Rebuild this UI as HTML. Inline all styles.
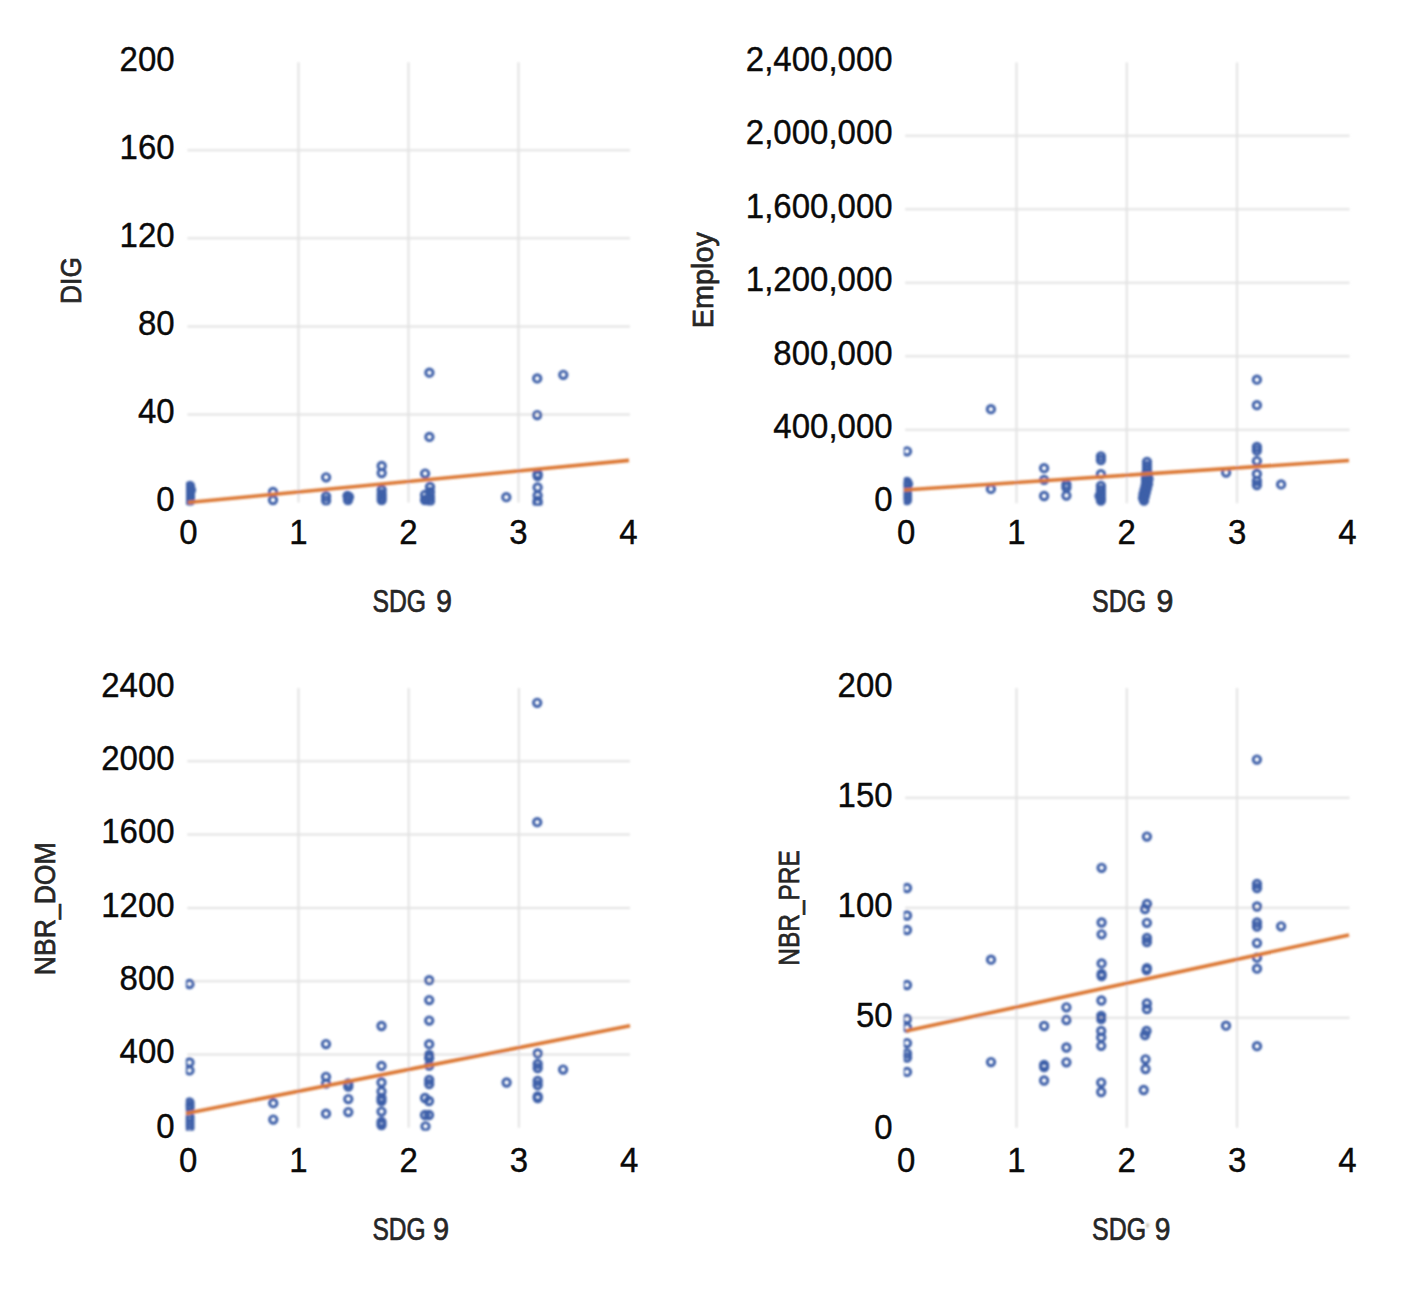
<!DOCTYPE html>
<html><head><meta charset="utf-8"><style>html,body{margin:0;padding:0;background:#fff;}svg{display:block;}</style></head>
<body><svg width="1403" height="1300" viewBox="0 0 1403 1300">
<defs><filter id="bl" x="-5%" y="-5%" width="110%" height="110%"><feGaussianBlur stdDeviation="0.8"/></filter><filter id="bt" x="-5%" y="-5%" width="110%" height="110%"><feGaussianBlur stdDeviation="0"/></filter></defs>
<rect width="1403" height="1300" fill="#fff"/>
<g filter="url(#bl)"><g stroke="#e2e2e2" stroke-width="2"><line x1="187.5" y1="414.5" x2="630.0" y2="414.5"/><line x1="187.5" y1="326.4" x2="630.0" y2="326.4"/><line x1="187.5" y1="238.3" x2="630.0" y2="238.3"/><line x1="187.5" y1="150.2" x2="630.0" y2="150.2"/><line x1="298.5" y1="62.3" x2="298.5" y2="502.6"/><line x1="408.5" y1="62.3" x2="408.5" y2="502.6"/><line x1="518.5" y1="62.3" x2="518.5" y2="502.6"/></g>
<clipPath id="cpc1"><rect x="186.0" y="54.3" width="452.0" height="451.3"/></clipPath>
<g clip-path="url(#cpc1)" fill="none" stroke="#3c5fa8" stroke-width="2.9"><circle cx="190" cy="486" r="3.7"/><circle cx="190" cy="489" r="3.7"/><circle cx="190" cy="492" r="3.7"/><circle cx="190" cy="495" r="3.7"/><circle cx="190" cy="498" r="3.7"/><circle cx="190" cy="501" r="3.7"/><circle cx="191" cy="490" r="3.7"/><circle cx="273" cy="492" r="3.7"/><circle cx="273" cy="500" r="3.7"/><circle cx="326.1" cy="477.3" r="3.7"/><circle cx="326.1" cy="496.5" r="3.7"/><circle cx="326.1" cy="500.5" r="3.7"/><circle cx="347.5" cy="496" r="3.7"/><circle cx="349" cy="497" r="3.7"/><circle cx="348" cy="500" r="3.7"/><circle cx="381.7" cy="466" r="3.7"/><circle cx="381.7" cy="473" r="3.7"/><circle cx="381.7" cy="490" r="3.7"/><circle cx="381.7" cy="494" r="3.7"/><circle cx="381.7" cy="497" r="3.7"/><circle cx="381.7" cy="500" r="3.7"/><circle cx="425.1" cy="473.6" r="3.7"/><circle cx="430" cy="487" r="3.7"/><circle cx="430" cy="492" r="3.7"/><circle cx="425" cy="495" r="3.7"/><circle cx="430" cy="497" r="3.7"/><circle cx="425" cy="500" r="3.7"/><circle cx="430" cy="501" r="3.7"/><circle cx="427" cy="500" r="3.7"/><circle cx="429.4" cy="372.7" r="3.7"/><circle cx="429.4" cy="436.9" r="3.7"/><circle cx="506.3" cy="497.2" r="3.7"/><circle cx="537.2" cy="378.4" r="3.7"/><circle cx="563.3" cy="374.8" r="3.7"/><circle cx="537.2" cy="415.1" r="3.7"/><circle cx="537.6" cy="474" r="3.7"/><circle cx="537.6" cy="476" r="3.7"/><circle cx="537.6" cy="487.4" r="3.7"/><circle cx="537.6" cy="495.5" r="3.7"/><circle cx="537.6" cy="501" r="3.7"/><circle cx="537.6" cy="503" r="3.7"/></g>
<line x1="188" y1="502.5" x2="629" y2="460.4" stroke="#db7630" stroke-width="3.6"/>
<g stroke="#e2e2e2" stroke-width="2"><line x1="905.2" y1="429.8" x2="1349.5" y2="429.8"/><line x1="905.2" y1="356.3" x2="1349.5" y2="356.3"/><line x1="905.2" y1="282.8" x2="1349.5" y2="282.8"/><line x1="905.2" y1="209.3" x2="1349.5" y2="209.3"/><line x1="905.2" y1="135.8" x2="1349.5" y2="135.8"/><line x1="1016.5" y1="62.5" x2="1016.5" y2="503.3"/><line x1="1126.8" y1="62.5" x2="1126.8" y2="503.3"/><line x1="1237.1" y1="62.5" x2="1237.1" y2="503.3"/></g>
<clipPath id="cpc2"><rect x="903.7" y="54.5" width="453.8" height="451.8"/></clipPath>
<g clip-path="url(#cpc2)" fill="none" stroke="#3c5fa8" stroke-width="2.9"><circle cx="907" cy="451.3" r="3.7"/><circle cx="907" cy="482" r="3.7"/><circle cx="907" cy="486" r="3.7"/><circle cx="907" cy="490" r="3.7"/><circle cx="907" cy="494" r="3.7"/><circle cx="907" cy="497" r="3.7"/><circle cx="907" cy="500" r="3.7"/><circle cx="908" cy="484" r="3.7"/><circle cx="990.9" cy="409.2" r="3.7"/><circle cx="990.9" cy="488.9" r="3.7"/><circle cx="1044.1" cy="468.2" r="3.7"/><circle cx="1044.1" cy="479.9" r="3.7"/><circle cx="1044.1" cy="496" r="3.7"/><circle cx="1066.4" cy="484.5" r="3.7"/><circle cx="1066.4" cy="487.5" r="3.7"/><circle cx="1066.4" cy="495.6" r="3.7"/><circle cx="1100.9" cy="456.5" r="3.7"/><circle cx="1100.9" cy="460" r="3.7"/><circle cx="1100.9" cy="474.2" r="3.7"/><circle cx="1100.9" cy="486" r="3.7"/><circle cx="1100.9" cy="490" r="3.7"/><circle cx="1100.9" cy="494" r="3.7"/><circle cx="1100.9" cy="498" r="3.7"/><circle cx="1100.9" cy="500.5" r="3.7"/><circle cx="1099.5" cy="496" r="3.7"/><circle cx="1147" cy="462" r="3.7"/><circle cx="1147" cy="466" r="3.7"/><circle cx="1147" cy="470" r="3.7"/><circle cx="1146" cy="474" r="3.7"/><circle cx="1148" cy="474" r="3.7"/><circle cx="1146" cy="478" r="3.7"/><circle cx="1148.5" cy="479" r="3.7"/><circle cx="1146" cy="482" r="3.7"/><circle cx="1148" cy="484" r="3.7"/><circle cx="1145.5" cy="486" r="3.7"/><circle cx="1147" cy="488" r="3.7"/><circle cx="1144.5" cy="490" r="3.7"/><circle cx="1146" cy="492" r="3.7"/><circle cx="1143.5" cy="494" r="3.7"/><circle cx="1145" cy="496" r="3.7"/><circle cx="1143" cy="498" r="3.7"/><circle cx="1144" cy="500.5" r="3.7"/><circle cx="1226.1" cy="472.5" r="3.7"/><circle cx="1256.9" cy="379.7" r="3.7"/><circle cx="1256.9" cy="405.2" r="3.7"/><circle cx="1256.9" cy="447" r="3.7"/><circle cx="1256.9" cy="450.5" r="3.7"/><circle cx="1256.9" cy="461.1" r="3.7"/><circle cx="1256.9" cy="473.9" r="3.7"/><circle cx="1256.9" cy="481" r="3.7"/><circle cx="1256.9" cy="485" r="3.7"/><circle cx="1281.1" cy="484.4" r="3.7"/></g>
<line x1="904" y1="490" x2="1349" y2="460.5" stroke="#db7630" stroke-width="3.6"/>
<g stroke="#e2e2e2" stroke-width="2"><line x1="187.3" y1="1054.5" x2="630.0" y2="1054.5"/><line x1="187.3" y1="981.2" x2="630.0" y2="981.2"/><line x1="187.3" y1="907.9" x2="630.0" y2="907.9"/><line x1="187.3" y1="834.6" x2="630.0" y2="834.6"/><line x1="187.3" y1="761.3" x2="630.0" y2="761.3"/><line x1="298.5" y1="688.0" x2="298.5" y2="1127.8"/><line x1="408.7" y1="688.0" x2="408.7" y2="1127.8"/><line x1="518.9" y1="688.0" x2="518.9" y2="1127.8"/></g>
<clipPath id="cpc3"><rect x="185.8" y="680.0" width="452.2" height="450.8"/></clipPath>
<g clip-path="url(#cpc3)" fill="none" stroke="#3c5fa8" stroke-width="2.9"><circle cx="189.5" cy="984" r="3.7"/><circle cx="189.5" cy="1062.4" r="3.7"/><circle cx="189.5" cy="1070.4" r="3.7"/><circle cx="189.5" cy="1102.5" r="3.7"/><circle cx="189.5" cy="1105.5" r="3.7"/><circle cx="189.5" cy="1108" r="3.7"/><circle cx="189.5" cy="1117" r="3.7"/><circle cx="189.5" cy="1120.5" r="3.7"/><circle cx="189.5" cy="1124" r="3.7"/><circle cx="189.5" cy="1127.5" r="3.7"/><circle cx="273.3" cy="1103.2" r="3.7"/><circle cx="273.3" cy="1119.6" r="3.7"/><circle cx="326" cy="1044.1" r="3.7"/><circle cx="326" cy="1076.8" r="3.7"/><circle cx="326" cy="1083.6" r="3.7"/><circle cx="326" cy="1113.7" r="3.7"/><circle cx="348.3" cy="1083.5" r="3.7"/><circle cx="348.3" cy="1086.5" r="3.7"/><circle cx="348.3" cy="1099.1" r="3.7"/><circle cx="348.3" cy="1112.1" r="3.7"/><circle cx="381.5" cy="1026" r="3.7"/><circle cx="381.5" cy="1065.9" r="3.7"/><circle cx="381.5" cy="1082.5" r="3.7"/><circle cx="381.5" cy="1091.4" r="3.7"/><circle cx="381.5" cy="1098" r="3.7"/><circle cx="381.5" cy="1101" r="3.7"/><circle cx="381.5" cy="1111.6" r="3.7"/><circle cx="381.5" cy="1122" r="3.7"/><circle cx="381.5" cy="1125" r="3.7"/><circle cx="429.2" cy="980.2" r="3.7"/><circle cx="429.2" cy="1000.1" r="3.7"/><circle cx="429.2" cy="1020.6" r="3.7"/><circle cx="429.2" cy="1044.2" r="3.7"/><circle cx="429.2" cy="1055" r="3.7"/><circle cx="429.2" cy="1058" r="3.7"/><circle cx="429.2" cy="1065.7" r="3.7"/><circle cx="429.2" cy="1080" r="3.7"/><circle cx="429.2" cy="1084" r="3.7"/><circle cx="425" cy="1098" r="3.7"/><circle cx="429" cy="1101" r="3.7"/><circle cx="425" cy="1115" r="3.7"/><circle cx="429" cy="1115" r="3.7"/><circle cx="425.5" cy="1126.3" r="3.7"/><circle cx="506.6" cy="1082.5" r="3.7"/><circle cx="537.2" cy="702.8" r="3.7"/><circle cx="537.2" cy="822.2" r="3.7"/><circle cx="537.7" cy="1053.4" r="3.7"/><circle cx="537.7" cy="1064" r="3.7"/><circle cx="537.7" cy="1068" r="3.7"/><circle cx="537.7" cy="1081" r="3.7"/><circle cx="537.7" cy="1085" r="3.7"/><circle cx="537.7" cy="1096.5" r="3.7"/><circle cx="537.7" cy="1098" r="3.7"/><circle cx="563.1" cy="1069.6" r="3.7"/></g>
<line x1="186" y1="1113.4" x2="630" y2="1025.7" stroke="#db7630" stroke-width="3.6"/>
<g stroke="#e2e2e2" stroke-width="2"><line x1="905.2" y1="1017.7" x2="1349.5" y2="1017.7"/><line x1="905.2" y1="907.7" x2="1349.5" y2="907.7"/><line x1="905.2" y1="797.7" x2="1349.5" y2="797.7"/><line x1="1016.5" y1="688.0" x2="1016.5" y2="1127.7"/><line x1="1126.8" y1="688.0" x2="1126.8" y2="1127.7"/><line x1="1237.1" y1="688.0" x2="1237.1" y2="1127.7"/></g>
<clipPath id="cpc4"><rect x="903.7" y="680.0" width="453.8" height="450.7"/></clipPath>
<g clip-path="url(#cpc4)" fill="none" stroke="#3c5fa8" stroke-width="2.9"><circle cx="907" cy="888" r="3.7"/><circle cx="907" cy="915.5" r="3.7"/><circle cx="907" cy="930" r="3.7"/><circle cx="907" cy="985" r="3.7"/><circle cx="907" cy="1019" r="3.7"/><circle cx="907" cy="1027.5" r="3.7"/><circle cx="907" cy="1043.1" r="3.7"/><circle cx="907" cy="1053.5" r="3.7"/><circle cx="907" cy="1057.5" r="3.7"/><circle cx="907" cy="1071.9" r="3.7"/><circle cx="991" cy="959.7" r="3.7"/><circle cx="991" cy="1062.1" r="3.7"/><circle cx="1044.1" cy="1026" r="3.7"/><circle cx="1044.1" cy="1065" r="3.7"/><circle cx="1044.1" cy="1067" r="3.7"/><circle cx="1044.1" cy="1080.5" r="3.7"/><circle cx="1066.4" cy="1007.3" r="3.7"/><circle cx="1066.4" cy="1020" r="3.7"/><circle cx="1066.4" cy="1047.5" r="3.7"/><circle cx="1066.4" cy="1062.3" r="3.7"/><circle cx="1101.6" cy="867.8" r="3.7"/><circle cx="1101.6" cy="922.5" r="3.7"/><circle cx="1101.6" cy="934.3" r="3.7"/><circle cx="1101.6" cy="963.4" r="3.7"/><circle cx="1101.6" cy="974" r="3.7"/><circle cx="1101.6" cy="976" r="3.7"/><circle cx="1101.4" cy="1000.5" r="3.7"/><circle cx="1101.2" cy="1016" r="3.7"/><circle cx="1101.2" cy="1019" r="3.7"/><circle cx="1101.2" cy="1031" r="3.7"/><circle cx="1101.2" cy="1037.4" r="3.7"/><circle cx="1101.2" cy="1045.8" r="3.7"/><circle cx="1101.2" cy="1082.6" r="3.7"/><circle cx="1101.2" cy="1092" r="3.7"/><circle cx="1146.9" cy="836.6" r="3.7"/><circle cx="1147" cy="904" r="3.7"/><circle cx="1145" cy="909" r="3.7"/><circle cx="1146.9" cy="922.8" r="3.7"/><circle cx="1146.9" cy="938" r="3.7"/><circle cx="1146.9" cy="942" r="3.7"/><circle cx="1146.9" cy="968.2" r="3.7"/><circle cx="1146.6" cy="970" r="3.7"/><circle cx="1146.9" cy="1003.5" r="3.7"/><circle cx="1146.9" cy="1009" r="3.7"/><circle cx="1146.5" cy="1031" r="3.7"/><circle cx="1145" cy="1035" r="3.7"/><circle cx="1145.5" cy="1059.3" r="3.7"/><circle cx="1145.5" cy="1069" r="3.7"/><circle cx="1143.7" cy="1090" r="3.7"/><circle cx="1226" cy="1025.7" r="3.7"/><circle cx="1256.9" cy="759.6" r="3.7"/><circle cx="1257" cy="884" r="3.7"/><circle cx="1257" cy="888" r="3.7"/><circle cx="1257" cy="906.5" r="3.7"/><circle cx="1257" cy="922.5" r="3.7"/><circle cx="1257" cy="926.5" r="3.7"/><circle cx="1257" cy="943.1" r="3.7"/><circle cx="1257" cy="957.7" r="3.7"/><circle cx="1257" cy="968.7" r="3.7"/><circle cx="1257" cy="1046.2" r="3.7"/><circle cx="1281.1" cy="926.3" r="3.7"/></g>
<line x1="906" y1="1031" x2="1349" y2="935" stroke="#db7630" stroke-width="3.6"/>
<ellipse cx="1147.6" cy="1225.5" rx="1.3" ry="2.2" fill="#b8b09a"/></g>
<g font-family="&quot;Liberation Sans&quot;, sans-serif"><g font-size="35.6" fill="#0a0a0a" stroke="#0a0a0a" stroke-width="0.4"><text transform="translate(174.6,511.2) scale(0.927,1)" text-anchor="end">0</text><text transform="translate(174.6,423.4) scale(0.927,1)" text-anchor="end">40</text><text transform="translate(174.6,335.3) scale(0.927,1)" text-anchor="end">80</text><text transform="translate(174.6,247.2) scale(0.927,1)" text-anchor="end">120</text><text transform="translate(174.6,159.1) scale(0.927,1)" text-anchor="end">160</text><text transform="translate(174.6,71.0) scale(0.927,1)" text-anchor="end">200</text><text transform="translate(188.5,544) scale(0.927,1)" text-anchor="middle">0</text><text transform="translate(298.5,544) scale(0.927,1)" text-anchor="middle">1</text><text transform="translate(408.5,544) scale(0.927,1)" text-anchor="middle">2</text><text transform="translate(518.5,544) scale(0.927,1)" text-anchor="middle">3</text><text transform="translate(628.5,544) scale(0.927,1)" text-anchor="middle">4</text></g>
<g font-size="30.5" fill="#262626" stroke="#262626" stroke-width="0.7"><text x="372.5" y="612.2" textLength="53.6" lengthAdjust="spacingAndGlyphs">SDG</text><text x="436.3" y="612.2" textLength="15.7" lengthAdjust="spacingAndGlyphs">9</text></g>
<text transform="translate(80.8,280.5) rotate(-90)" font-size="29.8" fill="#262626" stroke="#262626" stroke-width="0.7" text-anchor="middle" textLength="46.8" lengthAdjust="spacingAndGlyphs">DIG</text>
<g font-size="35.6" fill="#0a0a0a" stroke="#0a0a0a" stroke-width="0.4"><text transform="translate(892.6,511.2) scale(0.927,1)" text-anchor="end">0</text><text transform="translate(892.6,438.4) scale(0.927,1)" text-anchor="end">400,000</text><text transform="translate(892.6,364.9) scale(0.927,1)" text-anchor="end">800,000</text><text transform="translate(892.6,291.4) scale(0.927,1)" text-anchor="end">1,200,000</text><text transform="translate(892.6,217.9) scale(0.927,1)" text-anchor="end">1,600,000</text><text transform="translate(892.6,144.4) scale(0.927,1)" text-anchor="end">2,000,000</text><text transform="translate(892.6,70.9) scale(0.927,1)" text-anchor="end">2,400,000</text><text transform="translate(906.2,544) scale(0.927,1)" text-anchor="middle">0</text><text transform="translate(1016.5,544) scale(0.927,1)" text-anchor="middle">1</text><text transform="translate(1126.8,544) scale(0.927,1)" text-anchor="middle">2</text><text transform="translate(1237.1,544) scale(0.927,1)" text-anchor="middle">3</text><text transform="translate(1347.4,544) scale(0.927,1)" text-anchor="middle">4</text></g>
<g font-size="30.5" fill="#262626" stroke="#262626" stroke-width="0.7"><text x="1092.1" y="612.2" textLength="54.0" lengthAdjust="spacingAndGlyphs">SDG</text><text x="1156.6" y="612.2" textLength="16.9" lengthAdjust="spacingAndGlyphs">9</text></g>
<text transform="translate(713.2,280.2) rotate(-90)" font-size="29.8" fill="#262626" stroke="#262626" stroke-width="0.7" text-anchor="middle" textLength="96.2" lengthAdjust="spacingAndGlyphs">Employ</text>
<g font-size="35.6" fill="#0a0a0a" stroke="#0a0a0a" stroke-width="0.4"><text transform="translate(174.6,1138.4) scale(0.927,1)" text-anchor="end">0</text><text transform="translate(174.6,1063.1) scale(0.927,1)" text-anchor="end">400</text><text transform="translate(174.6,989.8) scale(0.927,1)" text-anchor="end">800</text><text transform="translate(174.6,916.5) scale(0.927,1)" text-anchor="end">1200</text><text transform="translate(174.6,843.2) scale(0.927,1)" text-anchor="end">1600</text><text transform="translate(174.6,769.9) scale(0.927,1)" text-anchor="end">2000</text><text transform="translate(174.6,696.6) scale(0.927,1)" text-anchor="end">2400</text><text transform="translate(188.3,1171.5) scale(0.927,1)" text-anchor="middle">0</text><text transform="translate(298.5,1171.5) scale(0.927,1)" text-anchor="middle">1</text><text transform="translate(408.7,1171.5) scale(0.927,1)" text-anchor="middle">2</text><text transform="translate(518.9,1171.5) scale(0.927,1)" text-anchor="middle">3</text><text transform="translate(629.1,1171.5) scale(0.927,1)" text-anchor="middle">4</text></g>
<g font-size="30.5" fill="#262626" stroke="#262626" stroke-width="0.7"><text x="372.5" y="1239.5" textLength="53.2" lengthAdjust="spacingAndGlyphs">SDG</text><text x="433.1" y="1239.5" textLength="16.1" lengthAdjust="spacingAndGlyphs">9</text></g>
<text transform="translate(55.2,908.8) rotate(-90)" font-size="29.8" fill="#262626" stroke="#262626" stroke-width="0.7" text-anchor="middle" textLength="132.7" lengthAdjust="spacingAndGlyphs">NBR_DOM</text>
<g font-size="35.6" fill="#0a0a0a" stroke="#0a0a0a" stroke-width="0.4"><text transform="translate(892.6,1138.7) scale(0.927,1)" text-anchor="end">0</text><text transform="translate(892.6,1026.7) scale(0.927,1)" text-anchor="end">50</text><text transform="translate(892.6,916.7) scale(0.927,1)" text-anchor="end">100</text><text transform="translate(892.6,806.7) scale(0.927,1)" text-anchor="end">150</text><text transform="translate(892.6,696.7) scale(0.927,1)" text-anchor="end">200</text><text transform="translate(906.2,1171.5) scale(0.927,1)" text-anchor="middle">0</text><text transform="translate(1016.5,1171.5) scale(0.927,1)" text-anchor="middle">1</text><text transform="translate(1126.8,1171.5) scale(0.927,1)" text-anchor="middle">2</text><text transform="translate(1237.1,1171.5) scale(0.927,1)" text-anchor="middle">3</text><text transform="translate(1347.4,1171.5) scale(0.927,1)" text-anchor="middle">4</text></g>
<g font-size="30.5" fill="#262626" stroke="#262626" stroke-width="0.7"><text x="1092.1" y="1239.5" textLength="54.0" lengthAdjust="spacingAndGlyphs">SDG</text><text x="1154.7" y="1239.5" textLength="15.7" lengthAdjust="spacingAndGlyphs">9</text></g>
<text transform="translate(799.0,908.0) rotate(-90)" font-size="29.8" fill="#262626" stroke="#262626" stroke-width="0.7" text-anchor="middle" textLength="115.5" lengthAdjust="spacingAndGlyphs">NBR_PRE</text></g>
</svg></body></html>
